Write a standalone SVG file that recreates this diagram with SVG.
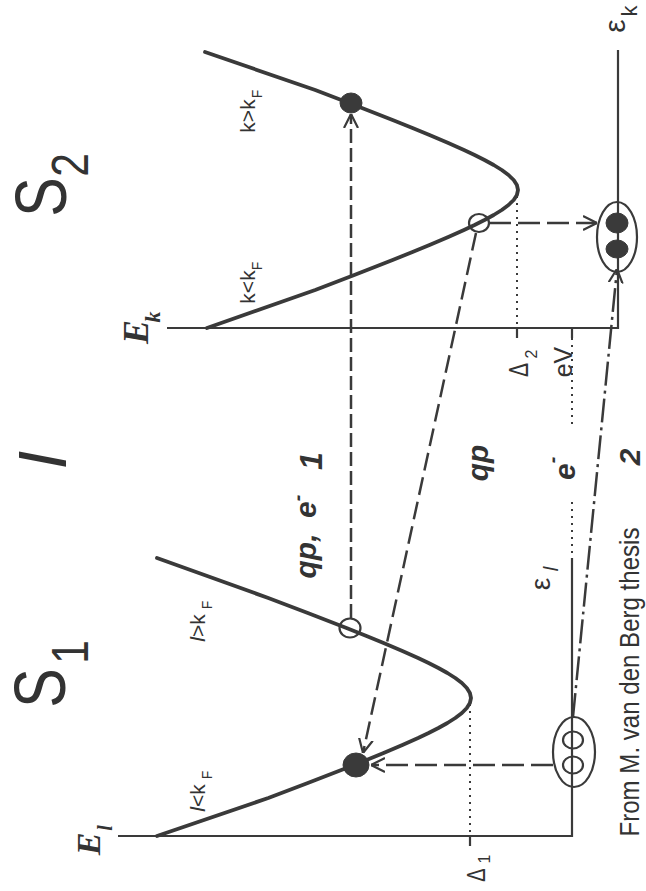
<svg xmlns="http://www.w3.org/2000/svg" width="646" height="891" viewBox="0 0 646 891">
<defs>
<style>
.band{fill:none;stroke:#3a3a3a;stroke-width:3.8;stroke-linejoin:round;stroke-linecap:round}
.axis{fill:none;stroke:#3a3a3a;stroke-width:2.2}
.dot{fill:none;stroke:#3a3a3a;stroke-width:2;stroke-dasharray:2,5}
.dash{fill:none;stroke:#3a3a3a;stroke-width:2.5}
.d1{stroke-dasharray:14,5}
.d2{stroke-dasharray:18,7}
.d3{stroke-dasharray:22,7}
.d4{stroke-dasharray:24,5,3,5}
.t{font-family:"Liberation Sans",Arial,sans-serif;fill:#333}
.s{font-family:"Liberation Serif","Times New Roman",serif;fill:#333;font-style:italic;font-weight:bold}
.filled{fill:#3a3a3a;stroke:#3a3a3a;stroke-width:1}
.open{fill:none;stroke:#3a3a3a;stroke-width:2.2}
</style>
<marker id="arr" viewBox="0 0 14 16" refX="14" refY="8" markerWidth="14" markerHeight="16" markerUnits="userSpaceOnUse" orient="auto">
<path d="M0,1 L14,8 L0,15" fill="none" stroke="#3a3a3a" stroke-width="2.2" stroke-dasharray="none"/>
</marker>
</defs>
<rect width="646" height="891" fill="#fff"/>

<g id="axes-s2">
<path class="axis" d="M167,328 H618 V50"/>
<path class="axis" d="M517,328 V338 M572,328 V338"/>
<path class="dot" d="M517,196 V328"/>
</g>
<g id="axes-s1">
<path class="axis" d="M118,836 H572 V558"/>
<path class="axis" d="M470,836 V846"/>
<path class="dot" d="M470,704 V834"/>
<path class="dot" d="M572,338 V428 M572,502 V558"/>
</g>

<g id="band-s2">
<path class="band" d="M205,52 L315.2,90 L354.3,105 L392.6,120 L412.5,128 L429.5,135 L448.3,143 L464,150 L474.6,155 L484.5,160 L493.7,165 L501.8,170 L508.5,175 L513.7,180 L516.9,185 L518,190 L516.9,195 L513.7,200 L508.5,205 L501.8,210 L493.7,215 L484.5,220 L474.6,225 L464,230 L448.3,237 L429.5,245 L412.5,252 L392.6,260 L354.3,275 L315.2,290 L207,328"/>
</g>
<g id="band-s1">
<path class="band" d="M157,558 L268.3,598 L307.8,613 L346.5,628 L366.5,636 L383.6,643 L402.4,651 L418.1,658 L428.6,663 L438.4,668 L447.4,673 L455.3,678 L461.9,683 L466.8,688 L469.9,693 L471,698 L469.9,703 L466.8,708 L461.9,713 L455.3,718 L447.4,723 L438.4,728 L428.6,733 L418.1,738 L402.4,745 L383.6,753 L366.5,760 L346.5,768 L307.8,783 L268.3,798 L157,836"/>
</g>

<g id="connectors">
<path class="dash d1" d="M351,618 L351,114" marker-end="url(#arr)"/>
<path class="dash d2" d="M476,233 L363,753" marker-end="url(#arr)"/>
<path class="dash d3" d="M553,765 L371,765" marker-end="url(#arr)"/>
<path class="dash d3" d="M489,223 L597,223" marker-end="url(#arr)"/>
<path class="dash d4" d="M573,717 L617,269" marker-end="url(#arr)"/>
</g>

<g id="node-s2-filled"><ellipse class="filled" cx="351" cy="103" rx="11" ry="10"/></g>
<g id="node-s2-open"><ellipse class="open" cx="479" cy="223" rx="10" ry="9"/></g>
<g id="node-s1-open"><ellipse class="open" cx="350" cy="628" rx="10.5" ry="9.5"/></g>
<g id="node-s1-filled"><ellipse class="filled" cx="356" cy="765" rx="13" ry="12"/></g>
<g id="node-s2-pair">
<ellipse class="open" cx="617" cy="237" rx="20" ry="35"/>
<ellipse class="filled" cx="617" cy="223" rx="11" ry="10"/>
<ellipse class="filled" cx="617" cy="249" rx="11" ry="9"/>
</g>
<g id="node-s1-pair">
<ellipse class="open" cx="574" cy="752" rx="21" ry="35"/>
<ellipse class="open" cx="573" cy="740" rx="10" ry="8.5"/>
<ellipse class="open" cx="573" cy="765" rx="10" ry="8.5"/>
</g>

<g id="labels" class="t">
<text class="t" transform="translate(66,197) rotate(-90) scale(0.82,1)" font-size="72" text-anchor="middle">S</text>
<text class="t" transform="translate(88,165) rotate(-90) scale(0.82,1)" font-size="52" text-anchor="middle">2</text>
<text class="t" transform="translate(65,688) rotate(-90) scale(0.82,1)" font-size="72" text-anchor="middle">S</text>
<text class="t" transform="translate(88,652) rotate(-90) scale(0.82,1)" font-size="52" text-anchor="middle">1</text>
<text class="t" transform="translate(66,460) rotate(-90)" font-size="68" font-style="italic" text-anchor="middle">I</text>

<text class="s" transform="translate(148,332) rotate(-90)" font-size="36" text-anchor="middle">E</text>
<text class="s" transform="translate(160,317) rotate(-90)" font-size="22" text-anchor="middle">k</text>
<text class="s" transform="translate(100,844) rotate(-90)" font-size="34" text-anchor="middle">E</text>
<text class="s" transform="translate(112,828) rotate(-90)" font-size="20" text-anchor="middle">l</text>

<text class="t" transform="translate(625,26) rotate(-90)" font-size="30" text-anchor="middle">ε</text>
<text class="t" transform="translate(637,11) rotate(-90)" font-size="22" text-anchor="middle">k</text>
<text class="t" transform="translate(550,584) rotate(-90)" font-size="28" text-anchor="middle">ε</text>
<text class="t" transform="translate(558,569) rotate(-90)" font-size="20" font-style="italic" text-anchor="middle">l</text>

<text class="t" transform="translate(255,116) rotate(-90)" font-size="21" text-anchor="middle">k&gt;k</text>
<text class="t" transform="translate(262,94) rotate(-90)" font-size="14" text-anchor="middle">F</text>
<text class="t" transform="translate(255,287) rotate(-90)" font-size="21" text-anchor="middle">k&lt;k</text>
<text class="t" transform="translate(262,266) rotate(-90)" font-size="14" text-anchor="middle">F</text>
<text class="t" transform="translate(205,628) rotate(-90)" font-size="21" text-anchor="middle"><tspan font-style="italic">l</tspan>&gt;k</text>
<text class="t" transform="translate(212,605) rotate(-90)" font-size="14" text-anchor="middle">F</text>
<text class="t" transform="translate(205,798) rotate(-90)" font-size="21" text-anchor="middle"><tspan font-style="italic">l</tspan>&lt;k</text>
<text class="t" transform="translate(212,775) rotate(-90)" font-size="14" text-anchor="middle">F</text>

<text class="t" transform="translate(316,556) rotate(-90)" font-size="30" font-weight="bold" font-style="italic" text-anchor="middle">qp,</text>
<text class="t" transform="translate(316,518) rotate(-90)" font-size="30" font-weight="bold" font-style="italic">e<tspan font-size="20" dy="-12">-</tspan></text>
<text class="t" transform="translate(322,461) rotate(-90)" font-size="32" font-weight="bold" font-style="italic" text-anchor="middle">1</text>
<text class="t" transform="translate(488,463) rotate(-90)" font-size="30" font-weight="bold" font-style="italic" text-anchor="middle">qp</text>
<text class="t" transform="translate(575,480) rotate(-90)" font-size="30" font-weight="bold" font-style="italic">e<tspan font-size="20" dy="-16">-</tspan></text>
<text class="t" transform="translate(640,457) rotate(-90)" font-size="30" font-weight="bold" font-style="italic" text-anchor="middle">2</text>

<text class="t" transform="translate(528,370) rotate(-90) scale(0.75,1)" font-size="28" text-anchor="middle">Δ</text>
<text class="t" transform="translate(537,354) rotate(-90)" font-size="16" text-anchor="middle">2</text>
<text class="t" transform="translate(572,362) rotate(-90)" font-size="25" text-anchor="middle">eV</text>
<text class="t" transform="translate(485,875) rotate(-90) scale(0.8,1)" font-size="25" text-anchor="middle">Δ</text>
<text class="t" transform="translate(490,859) rotate(-90)" font-size="16" text-anchor="middle">1</text>

<text class="t" transform="translate(639,682) rotate(-90)" font-size="28" text-anchor="middle" textLength="309" lengthAdjust="spacingAndGlyphs">From M. van den Berg thesis</text>
</g>
</svg>
